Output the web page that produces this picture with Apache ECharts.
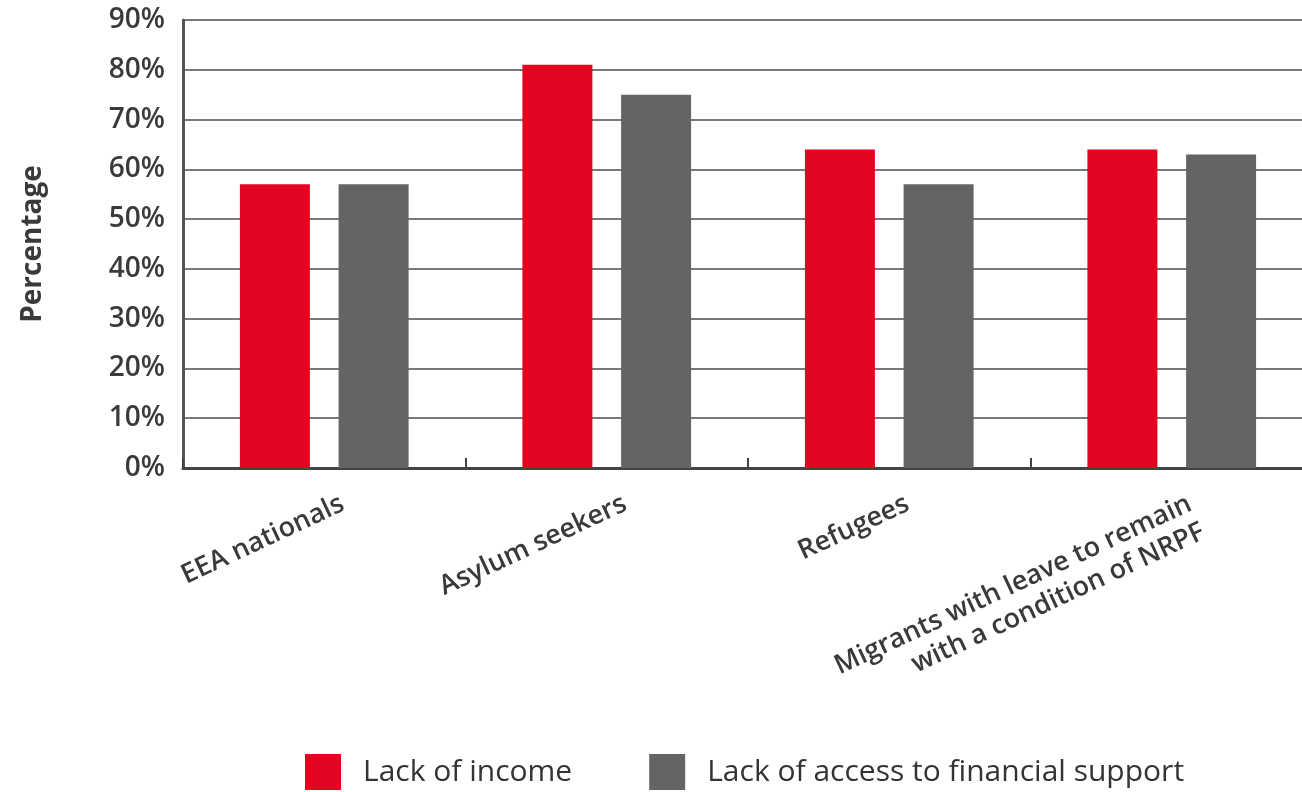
<!DOCTYPE html>
<html>
<head>
<meta charset="utf-8">
<script src="https://cdn.jsdelivr.net/npm/echarts@6/dist/echarts.min.js"></script>
<style>
  html, body { margin: 0; padding: 0; background: #fff; }
  #chart { width: 1302px; height: 792px; }
</style>
</head>
<body>
<div id="chart"></div>
<script>
// Groups of people and the share reporting each barrier
const categories = [
  'EEA nationals',
  'Asylum seekers',
  'Refugees',
  'Migrants with leave to remain\nwith a condition of NRPF'
];
const seriesNames = ['Lack of income', 'Lack of access to financial support'];
const lackOfIncome = [57, 81, 64, 64];
const lackOfSupport = [57, 75, 57, 63];
const yTicks = { min: 0, max: 90, step: 10 };

const RED = '#E3051F';
const GREY = '#646464';
const INK = '#3a3a3a';
const FONT = '"Open Sans", "Noto Sans", sans-serif';

const chart = echarts.init(document.getElementById('chart'), null, { renderer: 'canvas' });

chart.setOption({
  animation: false,
  backgroundColor: '#ffffff',
  // the plot runs a little past the right edge of the page
  grid: { left: 183, top: 20, width: 1130, height: 448, containLabel: false, outerBoundsMode: 'none' },
  legend: {
    data: seriesNames,
    left: 305,
    top: 754,
    padding: 0,
    itemWidth: 36,
    itemHeight: 36,
    itemGap: 77,
    icon: 'rect',
    textStyle: {
      fontFamily: FONT,
      fontSize: 30,
      color: '#333',
      padding: [4, 0, 0, 17]
    }
  },
  xAxis: {
    type: 'category',
    data: categories,
    axisLine: { lineStyle: { color: '#444', width: 3 } },
    axisTick: { show: true, inside: true, length: 10, lineStyle: { color: '#444', width: 2 } },
    axisLabel: {
      interval: 0,
      rotate: 25,
      margin: 26,
      align: 'right',
      verticalAlign: 'top',
      padding: [0, -13, 0, 0],
      fontFamily: FONT,
      fontSize: 27,
      fontWeight: 600,
      lineHeight: 31,
      color: INK
    }
  },
  yAxis: {
    type: 'value',
    min: yTicks.min,
    max: yTicks.max,
    interval: yTicks.step,
    name: 'Percentage',
    nameLocation: 'middle',
    nameGap: 136,
    nameRotate: 90,
    nameTextStyle: { fontFamily: FONT, fontSize: 28, fontWeight: 'bold', color: INK },
    axisLine: { show: true, lineStyle: { color: '#555', width: 3 } },
    axisTick: { show: false },
    axisLabel: {
      margin: 18,
      formatter: '{value}%',
      fontFamily: FONT,
      fontSize: 28,
      fontWeight: 600,
      color: INK
    },
    splitLine: { lineStyle: { color: '#4d4d4d', width: 1.5 } }
  },
  series: [
    {
      name: seriesNames[0],
      type: 'bar',
      data: lackOfIncome,
      barWidth: 70,
      barGap: '41%',
      itemStyle: { color: RED }
    },
    {
      name: seriesNames[1],
      type: 'bar',
      data: lackOfSupport,
      barWidth: 70,
      itemStyle: { color: GREY }
    }
  ]
});
</script>
</body>
</html>
